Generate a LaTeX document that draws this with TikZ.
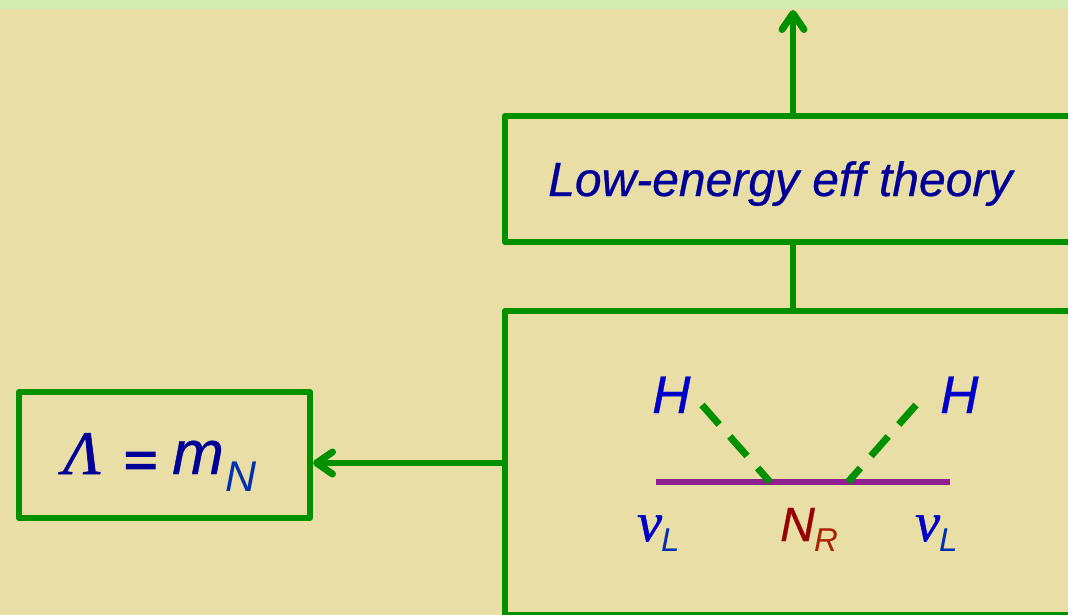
\documentclass[tikz,border=0pt]{standalone}
\usepackage{fontspec}
\setmainfont{Liberation Sans}
\newfontfamily\symfont{Liberation Serif}
\usetikzlibrary{arrows.meta}
\definecolor{bgc}{HTML}{E9DEA6}
\definecolor{bandc}{HTML}{D3EBB0}
\definecolor{grn}{HTML}{009000}
\definecolor{navy}{HTML}{000099}
\definecolor{bluH}{HTML}{0000CC}
\definecolor{bluS}{HTML}{0030B0}
\definecolor{redN}{HTML}{990000}
\definecolor{redR}{HTML}{AA2200}
\definecolor{purp}{HTML}{90208F}
\tikzset{
  x=1pt,y=-1pt,
  box/.style={draw=grn,line width=6pt,line join=round,inner sep=0pt,anchor=center},
  conn/.style={draw=grn,line width=6pt},
  tipped/.style={conn,-{Straight Barb[length=16pt,width=22pt,line width=7pt,round]}},
  higgs/.style={draw=grn,line width=7pt,dash pattern=on 26pt off 16pt},
  fermion/.style={draw=purp,line width=6pt},
  lbl/.style={inner sep=0pt,anchor=base west,font=\itshape},
}
\newcommand{\heavy}{\addfontfeature{FakeBold=0.6}}
\begin{document}
\begin{tikzpicture}
\useasboundingbox (0,0) rectangle (1068,615);
\clip (0,0) rectangle (1068,615);
\fill[bgc] (0,0) rectangle (1068,615);
\fill[bandc] (0,0) rectangle (1068,9);
\node[box,minimum width=576pt,minimum height=126pt] (low) at (793,179) {};
\node[box,minimum width=576pt,minimum height=304pt] (big) at (793,463) {};
\node[box,minimum width=291pt,minimum height=126pt] (lam) at (164.5,455) {};
\node[lbl,text=navy,font=\itshape\fontsize{48}{50}\selectfont\heavy] (lowt) at (548,196) {Low-energy eff theory};
\node[lbl,text=navy,font=\symfont\itshape\fontsize{62}{62}\selectfont\addfontfeature{FakeBold=1}] (lamt) at (63,474) {Λ};
\node[lbl,text=navy,font=\symfont\bfseries\fontsize{62}{62}\selectfont\addfontfeature{FakeBold=1.5}] (eqt) at (123,481) {=};
\node[lbl,text=navy,font=\itshape\fontsize{62}{62}\selectfont\heavy] (mt) at (172,474) {m};
\node[lbl,text=bluS,font=\itshape\fontsize{43}{43}\selectfont] (mN) at (225,491) {N};
\node[lbl,text=bluH,font=\itshape\fontsize{53}{53}\selectfont\heavy] (h1) at (652,413) {H};
\node[lbl,text=bluH,font=\itshape\fontsize{53}{53}\selectfont\heavy] (h2) at (940,413) {H};
\node[lbl,text=bluH,font=\symfont\itshape\fontsize{56}{56}\selectfont\addfontfeature{FakeBold=1}] (nu1) at (637,541) {ν};
\node[lbl,text=bluS,font=\itshape\fontsize{33}{33}\selectfont] (l1) at (661,551) {L};
\node[lbl,text=redN,font=\itshape\fontsize{48}{48}\selectfont\heavy] (nr) at (780,541) {N};
\node[lbl,text=redR,font=\itshape\fontsize{33}{33}\selectfont] (rr) at (814,551) {R};
\node[lbl,text=bluH,font=\symfont\itshape\fontsize{56}{56}\selectfont\addfontfeature{FakeBold=1}] (nu2) at (915,541) {ν};
\node[lbl,text=bluS,font=\itshape\fontsize{33}{33}\selectfont] (l2) at (939,551) {L};
\coordinate (top) at (793,10);
\coordinate (f1) at (656,482);
\coordinate (f2) at (950,482);
\coordinate (h1e) at (702,405);
\coordinate (v1) at (770,482);
\coordinate (h2e) at (916,405);
\coordinate (v2) at (848,482);
\draw[tipped] (low.north) -- (top);
\draw[conn] (big.north) -- (low.south);
\draw[tipped] (big.west) -- (lam.east |- big.west);
\draw[fermion] (f1) -- (f2);
\draw[higgs] (h1e) -- (v1);
\draw[higgs] (h2e) -- (v2);
\end{tikzpicture}
\end{document}
